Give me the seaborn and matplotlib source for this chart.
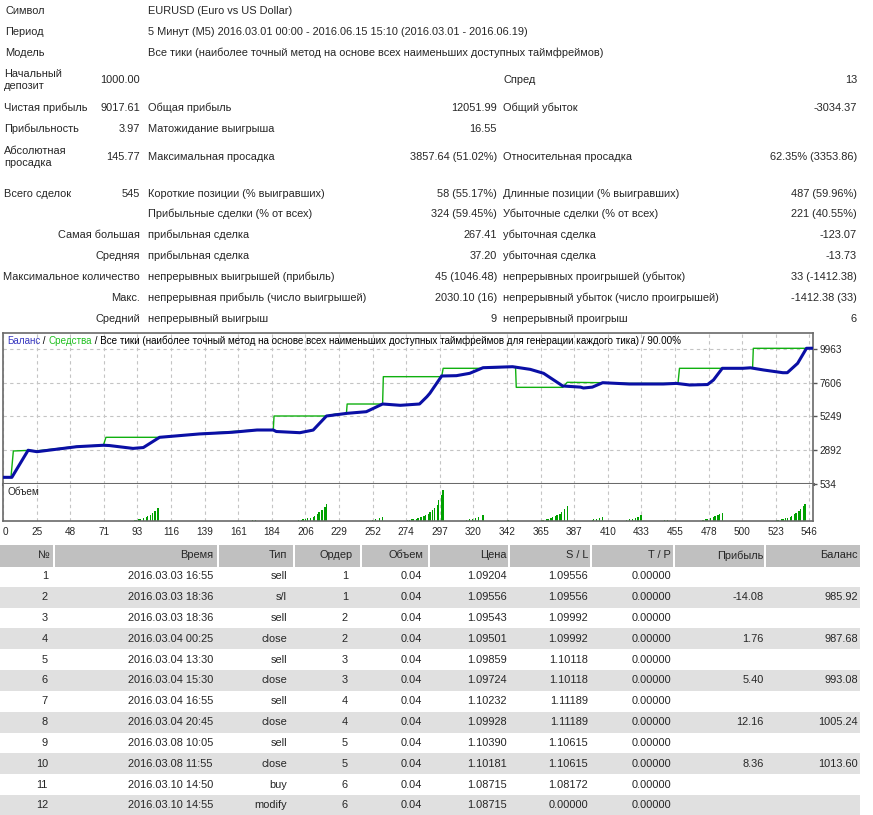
import numpy as np
import pandas as pd
import matplotlib
matplotlib.use('Agg')
import matplotlib.pyplot as plt
from matplotlib.patches import Rectangle
import seaborn as sns

# Report header
info_labels = ['Символ', 'Период', 'Модель']
info_values = ['EURUSD (Euro vs US Dollar)',
               '5 Минут (M5) 2016.03.01 00:00 - 2016.06.15 15:10 (2016.03.01 - 2016.06.19)',
               'Все тики (наиболее точный метод на основе всех наименьших доступных таймфреймов)']

# Summary statistics (label, value, label, value, label, value)
stat_rows = [
    ['Начальный\nдепозит', '1000.00', '', '', 'Спред', '13'],
    ['Чистая прибыль', '9017.61', 'Общая прибыль', '12051.99', 'Общий убыток', '-3034.37'],
    ['Прибыльность', '3.97', 'Матожидание выигрыша', '16.55', '', ''],
    ['Абсолютная\nпросадка', '145.77', 'Максимальная просадка', '3857.64 (51.02%)',
     'Относительная просадка', '62.35% (3353.86)'],
    ['Всего сделок', '545', 'Короткие позиции (% выигравших)', '58 (55.17%)',
     'Длинные позиции (% выигравших)', '487 (59.96%)'],
    ['', '', 'Прибыльные сделки (% от всех)', '324 (59.45%)',
     'Убыточные сделки (% от всех)', '221 (40.55%)'],
    ['Самая большая', '', 'прибыльная сделка', '267.41', 'убыточная сделка', '-123.07'],
    ['Средняя', '', 'прибыльная сделка', '37.20', 'убыточная сделка', '-13.73'],
    ['Максимальное количество', '', 'непрерывных выигрышей (прибыль)', '45 (1046.48)',
     'непрерывных проигрышей (убыток)', '33 (-1412.38)'],
    ['Макс.', '', 'непрерывная прибыль (число выигрышей)', '2030.10 (16)',
     'непрерывный убыток (число проигрышей)', '-1412.38 (33)'],
    ['Средний', '', 'непрерывный выигрыш', '9', 'непрерывный проигрыш', '6'],
]

# Balance curve (trade number, deposit)
bal_x = [0, 6, 17, 23, 50, 68, 72, 88, 95, 106, 133, 155, 172, 183, 185, 201, 210, 219,
         233, 246, 257, 269, 282, 287, 289, 297, 307, 316, 325, 345, 357, 366, 379, 391,
         393, 399, 406, 424, 447, 456, 465, 477, 481, 487, 501, 506, 515, 528, 531, 538,
         544, 548]
bal_y = [1000, 1000, 2890, 2790, 3140, 3240, 3220, 3020, 3080, 3795, 4030, 4145, 4305,
         4305, 4200, 4117, 4300, 5283, 5470, 5584, 6121, 6030, 6121, 6630, 6870, 8077,
         8100, 8265, 8656, 8726, 8540, 8265, 7378, 7300, 7238, 7300, 7609, 7518, 7518,
         7560, 7448, 7480, 7797, 8614, 8614, 8650, 8496, 8307, 8307, 8963, 10011, 10017]

# Equity curve
eq_x = [0, 5.4, 7, 17, 23, 50, 68, 69.7, 106, 133, 155, 172, 183, 183.5, 219, 225, 232.5,
        233, 257, 257.5, 297, 298, 325, 345, 347, 347.5, 379, 382, 406, 424, 457, 458,
        487, 501, 507.5, 508, 544, 548]
eq_y = [1000, 1000, 2840, 2880, 2850, 3160, 3250, 3795, 3795, 4040, 4200, 4320, 4320,
        5283, 5283, 5420, 5450, 6121, 6121, 8030, 8030, 8614, 8614, 8726, 8726, 7285,
        7285, 7637, 7609, 7560, 7560, 8614, 8614, 8614, 8650, 10011, 10011, 10017]

# Volume (lots) per trade
vol_x = [89, 90, 92, 93, 95, 97, 98, 100, 101, 103, 105,
         169, 171,
         200, 202, 203, 205, 206, 208, 210, 211, 213, 214, 216, 218, 219,
         250, 252, 255, 257,
         274, 275, 277, 278, 280, 281, 283, 285, 286, 288, 289, 291, 292, 294, 295, 297, 298,
         314, 316, 318, 320, 322, 325,
         342,
         365, 366, 368, 369, 371, 372, 374, 375, 377, 378, 380, 382,
         399, 400, 402, 404, 406,
         422, 424, 426, 428, 430, 432,
         448, 450,
         474, 476, 477, 479, 481, 482, 484, 485, 487,
         524, 525, 527, 528, 530, 531, 533, 534, 536, 537, 539, 540, 542, 543]
vol_lots = [0.1, 0.1, 0.15, 0.2, 0.3, 0.35, 0.5, 0.6, 0.8, 1.0, 1.3,
            0.05, 0.05,
            0.1, 0.1, 0.15, 0.2, 0.25, 0.3, 0.4, 0.5, 0.65, 0.85, 1.1, 1.4, 1.7,
            0.1, 0.15, 0.25, 0.4,
            0.1, 0.1, 0.15, 0.15, 0.2, 0.3, 0.35, 0.45, 0.55, 0.7, 0.85, 1.05, 1.3, 1.6,
            2.0, 2.5, 3.0,
            0.1, 0.15, 0.2, 0.3, 0.4, 0.55,
            0.05,
            0.1, 0.1, 0.15, 0.2, 0.25, 0.35, 0.45, 0.55, 0.7, 0.9, 1.2, 1.5,
            0.1, 0.15, 0.2, 0.3, 0.4,
            0.1, 0.15, 0.2, 0.3, 0.4, 0.6,
            0.05, 0.05,
            0.1, 0.15, 0.2, 0.25, 0.35, 0.45, 0.55, 0.7, 0.8,
            0.1, 0.1, 0.15, 0.2, 0.25, 0.3, 0.4, 0.5, 0.65, 0.8, 1.0, 1.2, 1.45, 1.7]

y_ticks = [534, 2892, 5249, 7606, 9963]
x_tick_labels = ['0', '25', '48', '71', '93', '116', '139', '161', '184', '206', '229', '252',
                 '274', '297', '320', '342', '365', '387', '410', '433', '455', '478', '500',
                 '523', '546']

# Trades table
col_names = ['№', 'Время', 'Тип', 'Ордер', 'Объем', 'Цена', 'S / L', 'T / P', 'Прибыль', 'Баланс']
t_num = [1, 2, 3, 4, 5, 6, 7, 8, 9, 10, 11, 12]
t_time = ['2016.03.03 16:55', '2016.03.03 18:36', '2016.03.03 18:36', '2016.03.04 00:25',
          '2016.03.04 13:30', '2016.03.04 15:30', '2016.03.04 16:55', '2016.03.04 20:45',
          '2016.03.08 10:05', '2016.03.08 11:55', '2016.03.10 14:50', '2016.03.10 14:55']
t_type = ['sell', 's/l', 'sell', 'close', 'sell', 'close', 'sell', 'close', 'sell', 'close',
          'buy', 'modify']
t_order = [1, 1, 2, 2, 3, 3, 4, 4, 5, 5, 6, 6]
t_lots = ['0.04'] * 12
t_price = ['1.09204', '1.09556', '1.09543', '1.09501', '1.09859', '1.09724', '1.10232',
           '1.09928', '1.10390', '1.10181', '1.08715', '1.08715']
t_sl = ['1.09556', '1.09556', '1.09992', '1.09992', '1.10118', '1.10118', '1.11189',
        '1.11189', '1.10615', '1.10615', '1.08172', '0.00000']
t_tp = ['0.00000'] * 12
t_profit = ['', '-14.08', '', '1.76', '', '5.40', '', '12.16', '', '8.36', '', '']
t_balance = ['', '985.92', '', '987.68', '', '993.08', '', '1005.24', '', '1013.60', '', '']

W, H = 873, 815
sns.set_style('white')
plt.rcParams['font.family'] = ['Liberation Sans', 'DejaVu Sans']
FS = 7.9

fig = plt.figure(figsize=(W / 100, H / 100), dpi=100)
bg = fig.add_axes([0, 0, 1, 1], zorder=0)
bg.set_xlim(0, W)
bg.set_ylim(H, 0)
bg.axis('off')

# header block
for lab, val, y in zip(info_labels, info_values, [11, 32, 53]):
    bg.text(5, y, lab, fontsize=FS, va='center', ha='left')
    bg.text(148, y, val, fontsize=FS, va='center', ha='left')

stat_y = [80, 108, 129, 157, 194, 214, 235, 256, 277, 298, 319]
for row, y in zip(stat_rows, stat_y):
    l0, v0, l1, v1, l2, v2 = row
    if v0:
        bg.text(4, y, l0, fontsize=FS, va='center', ha='left', linespacing=1.25)
    else:
        bg.text(140, y, l0, fontsize=FS, va='center', ha='right')
    bg.text(140, y, v0, fontsize=FS, va='center', ha='right')
    bg.text(148, y, l1, fontsize=FS, va='center', ha='left')
    bg.text(497, y, v1, fontsize=FS, va='center', ha='right')
    bg.text(503, y, l2, fontsize=FS, va='center', ha='left')
    bg.text(857, y, v2, fontsize=FS, va='center', ha='right')

# balance chart
ax = fig.add_axes([3 / W, 1 - 484 / H, 810 / W, 151 / H], zorder=2)
axv = fig.add_axes([3 / W, 1 - 521 / H, 810 / W, 37 / H], zorder=2)
xmax = 548.4
x_ticks = [i * 22.75 for i in range(len(x_tick_labels))]

eq_df = pd.DataFrame({'trade': eq_x, 'value': eq_y})
bal_df = pd.DataFrame({'trade': bal_x, 'value': bal_y})
sns.lineplot(data=eq_df, x='trade', y='value', ax=ax, color='#10B010', linewidth=1.0,
             estimator=None, sort=False, zorder=3)
sns.lineplot(data=bal_df, x='trade', y='value', ax=ax, color='#0A0FA5', linewidth=2.2,
             estimator=None, sort=False, zorder=4)
ax.set_xlim(0, xmax)
ax.set_ylim(534, 11080)
ax.set_yticks(y_ticks)
ax.set_yticklabels([str(v) for v in y_ticks])
ax.yaxis.tick_right()
ax.set_xticks(x_ticks)
ax.tick_params(axis='x', length=0, labelbottom=False)
ax.tick_params(axis='y', length=3, width=1, color='#555555', pad=1.5, labelsize=7.2)
ax.grid(True, color='#C4C4C4', linestyle=(0, (3, 3)), linewidth=0.8)
ax.set_xlabel('')
ax.set_ylabel('')

axv.bar(vol_x, vol_lots, width=0.9, color='#00A000', linewidth=0)
axv.set_xlim(0, xmax)
axv.set_ylim(0, 3.6)
axv.set_yticks([])
axv.set_xticks(x_ticks)
axv.set_xticklabels(x_tick_labels)
axv.tick_params(axis='x', length=3, width=1, color='#555555', pad=1, labelsize=7.2)
axv.get_xticklabels()[0].set_horizontalalignment('left')
axv.grid(True, axis='x', color='#C4C4C4', linestyle=(0, (3, 3)), linewidth=0.8)
axv.text(4 / 810, 0.78, 'Объем', transform=axv.transAxes, fontsize=7.2, va='center')

for a in (ax, axv):
    for s in a.spines.values():
        s.set_color('#6A6A6A')
        s.set_linewidth(1.2)
ax.spines['bottom'].set_linewidth(2.2)
axv.spines['top'].set_visible(False)

# chart caption with coloured parts
fig.canvas.draw()
renderer = fig.canvas.get_renderer()
runs = [('Баланс', '#3838C0'), (' / ', 'black'), ('Средства', '#20C020'),
        (' / Все тики (наиболее точный метод на основе всех наименьших доступных таймфреймов '
         'для генерации каждого тика) / 90.00%', 'black')]
cx = 7
for txt, col in runs:
    t = bg.text(cx, 341, txt, fontsize=7.1, color=col, va='center', ha='left', zorder=5)
    bb = t.get_window_extent(renderer)
    cx += bb.width
bg.set_zorder(3)
bg.patch.set_alpha(0)

# trades table
col_left = [0, 55, 219, 295, 362, 430, 510, 592, 675, 766]
col_right = [53, 217, 293, 360, 428, 508, 590, 673, 764, 860]
head_x = [50, 213, 287, 353, 423, 507, 588, 671, 764, 858]
val_x = [48, 213, 287, 348, 422, 507, 588, 671, 764, 858]
row_h = 20.83
for l, r in zip(col_left, col_right):
    bg.add_patch(Rectangle((l, 545), r - l, 21.5, color='#C0C0C0', lw=0, zorder=0))
for name, x in zip(col_names, head_x):
    bg.text(x, 555.5, name, fontsize=FS, ha='right', va='center')

columns = [t_num, t_time, t_type, t_order, t_lots, t_price, t_sl, t_tp, t_profit, t_balance]
for i in range(len(t_num)):
    yc = 555.5 + row_h * (i + 1)
    if i % 2 == 1:
        bg.add_patch(Rectangle((0, yc - row_h / 2), 860, row_h, color='#E0E0E0', lw=0,
                               zorder=0))
    for col, x in zip(columns, val_x):
        bg.text(x, yc, str(col[i]), fontsize=FS, ha='right', va='center')

fig.savefig('out.png', dpi=100)
